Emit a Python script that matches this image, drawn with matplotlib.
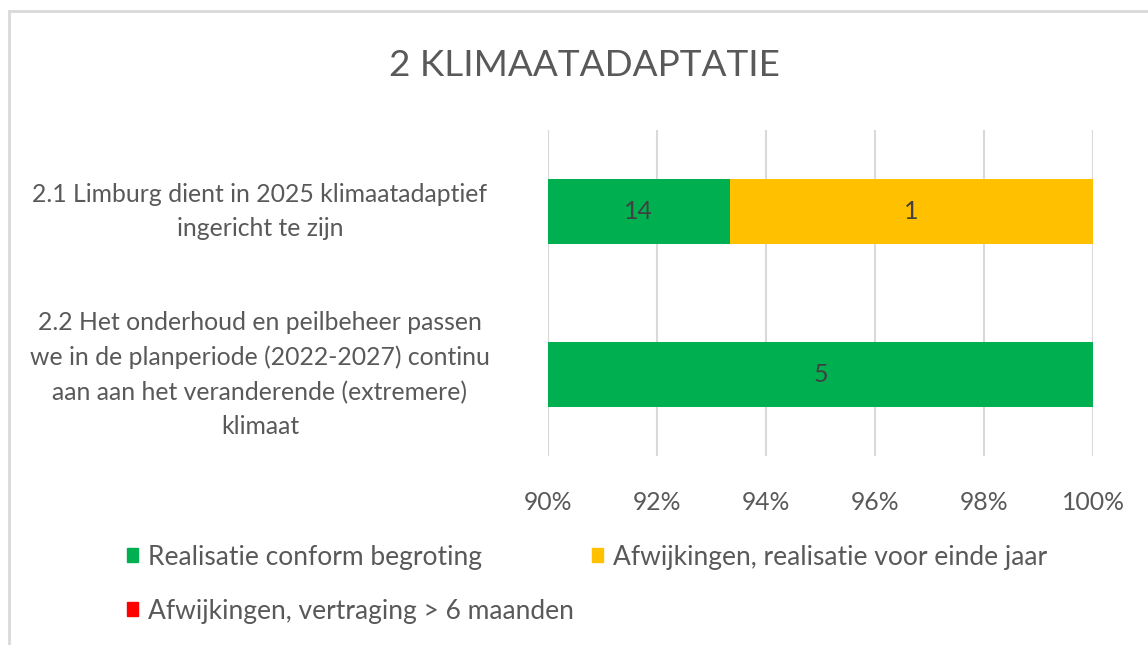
import matplotlib.pyplot as plt
from matplotlib.patches import Patch, Rectangle
from matplotlib.transforms import blended_transform_factory

plt.rcParams['font.family'] = ['Lato', 'DejaVu Sans']

categories = [
    "2.1 Limburg dient in 2025 klimaatadaptief\ningericht te zijn",
    "2.2 Het onderhoud en peilbeheer passen\nwe in de planperiode (2022-2027) continu\naan aan het veranderende (extremere)\nklimaat",
]
series_names = [
    "Realisatie conform begroting",
    "Afwijkingen, realisatie voor einde jaar",
    "Afwijkingen, vertraging > 6 maanden",
]
counts = [
    [14, 5],   # groen
    [1, 0],    # geel
    [0, 0],    # rood
]
colors = ["#00B050", "#FFC000", "#FF0000"]
ticks = [90, 92, 94, 96, 98, 100]

text_col = "#595959"
W, H = 1148, 645

fig = plt.figure(figsize=(W / 100, H / 100), dpi=100)
ax = fig.add_axes([548 / W, 1 - 456 / H, (1093 - 548) / W, (456 - 130) / H])

totals = [sum(c[i] for c in counts) for i in range(len(categories))]
ypos = list(range(len(categories)))
left = [0.0] * len(categories)
for name, vals, col in zip(series_names, counts, colors):
    pct = [v / t * 100 for v, t in zip(vals, totals)]
    ax.barh(ypos, pct, left=left, height=0.40, color=col, label=name, zorder=2)
    for i, (v, p) in enumerate(zip(vals, pct)):
        if v > 0:
            # label in het zichtbare deel van het segment (as begint bij 90%)
            mid = (max(left[i], 90) + left[i] + p) / 2
            ax.text(mid, i, str(v), ha='center', va='center', fontsize=18, color="#404040", zorder=3)
    left = [l + p for l, p in zip(left, pct)]

ax.set_xlim(90, 100)
ax.set_ylim(len(categories) - 0.5, -0.5)
ax.set_xticks(ticks)
ax.set_xticklabels([f"{t}%" for t in ticks], fontsize=17.8, color=text_col)
ax.set_yticks([])
ax.tick_params(axis='x', length=0, pad=25)
ax.grid(axis='x', color="#D9D9D9", linewidth=1.5, zorder=0)
for s in ax.spines.values():
    s.set_visible(False)

trans = blended_transform_factory(fig.transFigure, ax.transData)
for i, cat in enumerate(categories):
    ax.text(260 / W, i, cat, transform=trans, ha='center', va='center',
            multialignment='center', fontsize=17.8, color=text_col, linespacing=1.6)

fig.text(584 / W, 1 - 65 / H, "2 KLIMAATADAPTATIE", ha='center', va='center',
         fontsize=26.6, color=text_col)

# legenda: elk item apart geplaatst
legend_pos = [(127, 557), (592, 557), (127, 611)]
for name, col, (lx, ly) in zip(series_names, colors, legend_pos):
    fig.legend([Patch(color=col)], [name], loc='center left',
               bbox_to_anchor=(lx / W, 1 - ly / H), frameon=False,
               fontsize=19, labelcolor=text_col, handlelength=0.4, handleheight=0.4,
               handletextpad=0.38, borderpad=0, borderaxespad=0)

fig.patches.append(Rectangle((9 / W, -0.1), 1.2, 1.1 - 11 / H, transform=fig.transFigure,
                             fill=False, edgecolor="#D9D9D9", linewidth=2))

fig.savefig("out.png", dpi=100, facecolor="white")
